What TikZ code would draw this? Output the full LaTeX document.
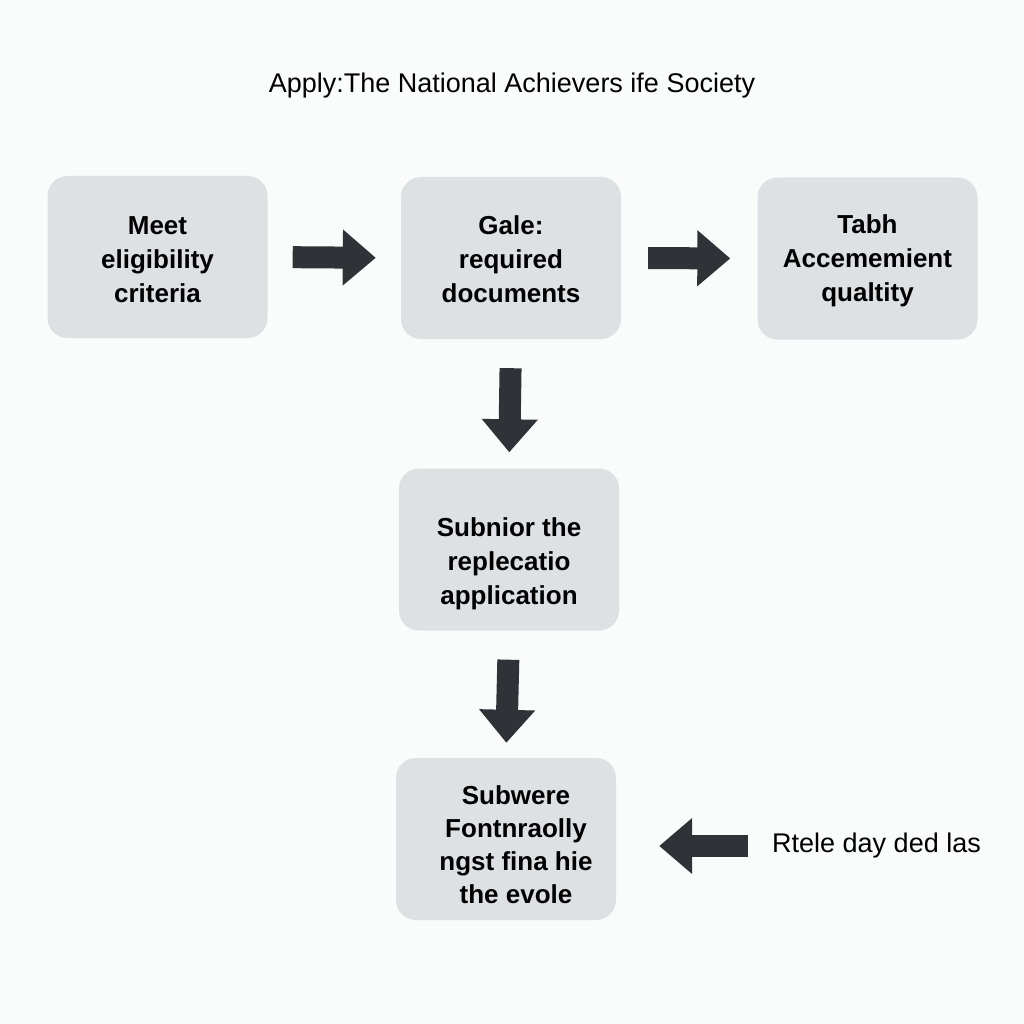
\documentclass[tikz,border=0pt]{standalone}
\usepackage{fontspec}
\setmainfont{Liberation Sans}
\usetikzlibrary{arrows.meta}
\definecolor{boxgray}{HTML}{DDE1E4}
\definecolor{arrowdark}{HTML}{2F3236}
\definecolor{bgwhite}{HTML}{FAFBFB}
\begin{document}
\begin{tikzpicture}[x=1pt,y=-1pt,
    stepbox/.style={fill=boxgray,rounded corners=20pt,minimum width=220pt,minimum height=162pt},
    steptext/.style={align=center,font=\fontsize{26}{34}\selectfont\bfseries},
    blockarrow/.style={draw=arrowdark,line width=22pt,-{Triangle[length=33pt,width=54pt]}}]
        \fill[bgwhite] (0,0) rectangle (1024,1024);
        \node[font=\fontsize{27}{30}\selectfont] (title) at (512,86) {Apply:The National Achievers ife Society};
        % the five steps
        \node[stepbox] (meet) at (157.5,257) {};
        \node[stepbox] (gale) at (511,258) {};
        \node[stepbox] (tabh) at (867.5,258.5) {};
        \node[stepbox] (sub1) at (509,549.5) {};
        \node[stepbox] (sub2) at (506,839) {};
        \node[steptext] (meettext) at (157.5,260) {Meet\\eligibility\\criteria};
        \node[steptext] (galetext) at (511,259) {Gale:\\required\\documents};
        \node[steptext] (tabhtext) at (867.5,261) {Tabh\\Accememient\\qualtity};
        \node[steptext] (sub1text) at (509,564) {Subnior the\\replecatio\\application};
        \node[steptext,font=\fontsize{26}{33}\selectfont\bfseries] (sub2text) at (516,845) {Subwere\\Fontnraolly\\ngst fina hie\\the evole};
        \node[anchor=west,inner sep=0pt,font=\fontsize{27}{30}\selectfont] (note) at (772,846) {Rtele day ded las};
        % arrows
        \draw[blockarrow,shorten <=25pt,shorten >=25pt] (meet.east) -- (gale.west);
        \draw[blockarrow,shorten <=27pt,shorten >=27pt] (gale.east) -- (tabh.west);
        \draw[blockarrow,shorten <=29pt,shorten >=16pt] (gale.south) -- (sub1.north);
        \draw[blockarrow,shorten <=29pt,shorten >=15pt] (sub1.south) -- (sub2.north);
        \draw[blockarrow,shorten <=24pt,shorten >=43pt] (note.west) -- (sub2.east |- note.west);
    \end{tikzpicture}
\end{document}
